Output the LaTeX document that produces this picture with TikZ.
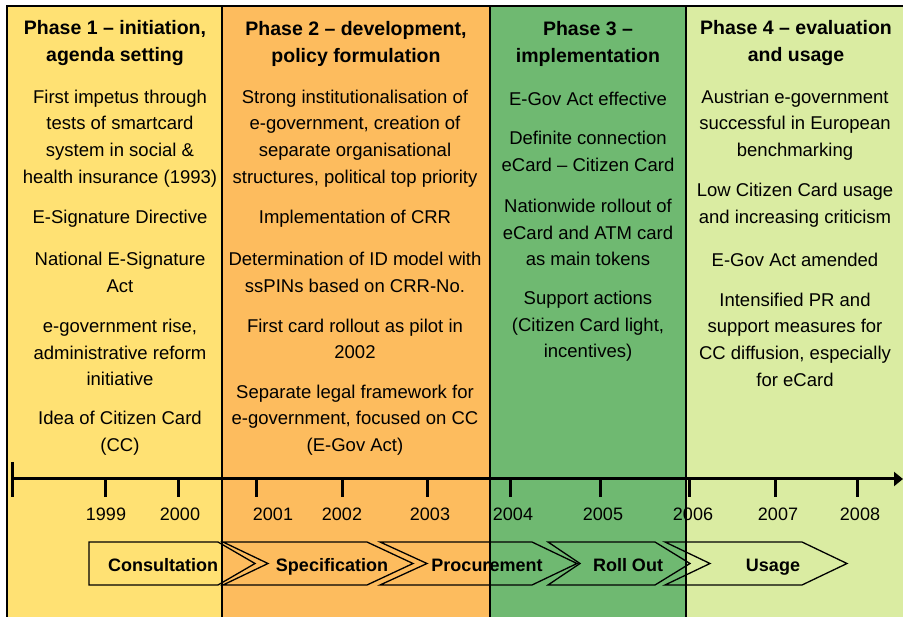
\documentclass[tikz,border=0pt]{standalone}
\usepackage{fontspec}
\setmainfont{Liberation Sans}
\usetikzlibrary{arrows.meta}
\definecolor{phaseA}{HTML}{FFE173}
\definecolor{phaseB}{HTML}{FDBC5E}
\definecolor{phaseC}{HTML}{6FB971}
\definecolor{phaseD}{HTML}{DAECA2}
\begin{document}
\begin{tikzpicture}[x=1pt,y=-1pt,
  body/.style={align=center,font=\fontsize{18.5}{26.7}\selectfont,inner sep=0pt},
  ptitle/.style={align=center,font=\fontsize{19.5}{27}\selectfont\bfseries,inner sep=0pt},
  yearlbl/.style={font=\fontsize{18}{20}\selectfont,inner sep=0pt,text height=13pt,text depth=0pt},
  chev/.style={draw=black,line width=1.3pt,line join=miter},
  chevlbl/.style={font=\fontsize{18}{20}\selectfont\bfseries,inner sep=0pt,text height=13pt,text depth=0pt},
  frameline/.style={line width=1.8pt},
  tick/.style={line width=3pt}]
\useasboundingbox (0,0) rectangle (903,617);
\fill[white] (0,0) rectangle (903,617);
% phase backgrounds
\fill[phaseA] (7,6) rectangle (222,617);
\fill[phaseB] (222,6) rectangle (490,617);
\fill[phaseC] (490,6) rectangle (686,617);
\fill[phaseD] (686,6) rectangle (903,617);
% frame lines
\draw[frameline] (7,617) -- (7,6) -- (903,6);
\draw[frameline] (222,6) -- (222,617);
\draw[frameline] (490,6) -- (490,617);
\draw[frameline] (686,6) -- (686,617);
% titles
\node[ptitle] (t1) at (115,43.5) {Phase 1 -- initiation,\\agenda setting};
\node[ptitle] (t2) at (356,43.5) {Phase 2 -- development,\\policy formulation};
\node[ptitle] (t3) at (588,43.5) {Phase 3 --\\implementation};
\node[ptitle] (t4) at (796,43.5) {Phase 4 -- evaluation\\and usage};
% column 1
\node[body] (p1a) at (120,138.5) {First impetus through\\tests of smartcard\\system in social \&\\health insurance (1993)};
\node[body] (p1b) at (120,218.5) {E-Signature Directive};
\node[body] (p1c) at (120,272.5) {National E-Signature\\Act};
\node[body] (p1d) at (120,352.5) {e-government rise,\\administrative reform\\initiative};
\node[body] (p1e) at (120,433.5) {Idea of Citizen Card\\(CC)};
% column 2
\node[body] (p2a) at (355,138.5) {Strong institutionalisation of\\e-government, creation of\\separate organisational\\structures, political top priority};
\node[body] (p2b) at (355,218.5) {Implementation of CRR};
\node[body] (p2c) at (355,272.5) {Determination of ID model with\\ssPINs based on CRR-No.};
\node[body] (p2d) at (355,339) {First card rollout as pilot in\\2002};
\node[body] (p2e) at (355,420.2) {Separate legal framework for\\e-government, focused on CC\\(E-Gov Act)};
% column 3
\node[body] (p3a) at (588,98.5) {E-Gov Act effective};
\node[body] (p3b) at (588,151.5) {Definite connection\\eCard -- Citizen Card};
\node[body] (p3c) at (588,232.5) {Nationwide rollout of\\eCard and ATM card\\as main tokens};
\node[body] (p3d) at (588,326.5) {Support actions\\(Citizen Card light,\\incentives)};
% column 4
\node[body] (p4a) at (795,125.2) {Austrian e-government\\successful in European\\benchmarking};
\node[body] (p4b) at (795,205) {Low Citizen Card usage\\and increasing criticism};
\node[body] (p4c) at (795,259.5) {E-Gov Act amended};
\node[body] (p4d) at (795,339.5) {Intensified PR and\\support measures for\\CC diffusion, especially\\for eCard};
% timeline
\coordinate (tlstart) at (12,479);
\coordinate (tlend) at (903,479);
\draw[line width=3pt,-{Triangle[length=9pt,width=14pt]}] (tlstart) -- (tlend);
\draw[tick] (12,462) -- (12,497);
\foreach \xx in {105,178,256,342,427,510,600,689,775,857}
  \draw[tick] (\xx,479) -- (\xx,497);
\node[yearlbl] (y1999) at (106,514) {1999};
\node[yearlbl] (y2000) at (180,514) {2000};
\node[yearlbl] (y2001) at (273,514) {2001};
\node[yearlbl] (y2002) at (342,514) {2002};
\node[yearlbl] (y2003) at (430,514) {2003};
\node[yearlbl] (y2004) at (513,514) {2004};
\node[yearlbl] (y2005) at (603,514) {2005};
\node[yearlbl] (y2006) at (693,514) {2006};
\node[yearlbl] (y2007) at (778,514) {2007};
\node[yearlbl] (y2008) at (860,514) {2008};
% chevrons
\draw[chev] (89,542) -- (218,542) -- (255,563.5) -- (218,585) -- (89,585) -- cycle;
\draw[chev] (223,542) -- (367,542) -- (413,563.5) -- (367,585) -- (223,585) -- (268,563.5) -- cycle;
\draw[chev] (380,542) -- (532,542) -- (577,563.5) -- (532,585) -- (380,585) -- (427,563.5) -- cycle;
\draw[chev] (548,542) -- (655,542) -- (690,563.5) -- (655,585) -- (548,585) -- (580,563.5) -- cycle;
\draw[chev] (665,542) -- (802,542) -- (847,563.5) -- (802,585) -- (665,585) -- (710,563.5) -- cycle;
\node[chevlbl] (c1) at (163,565) {Consultation};
\node[chevlbl] (c2) at (332,565) {Specification};
\node[chevlbl] (c3) at (487,565) {Procurement};
\node[chevlbl] (c4) at (628,565) {Roll Out};
\node[chevlbl] (c5) at (773,565) {Usage};
\end{tikzpicture}
\end{document}
